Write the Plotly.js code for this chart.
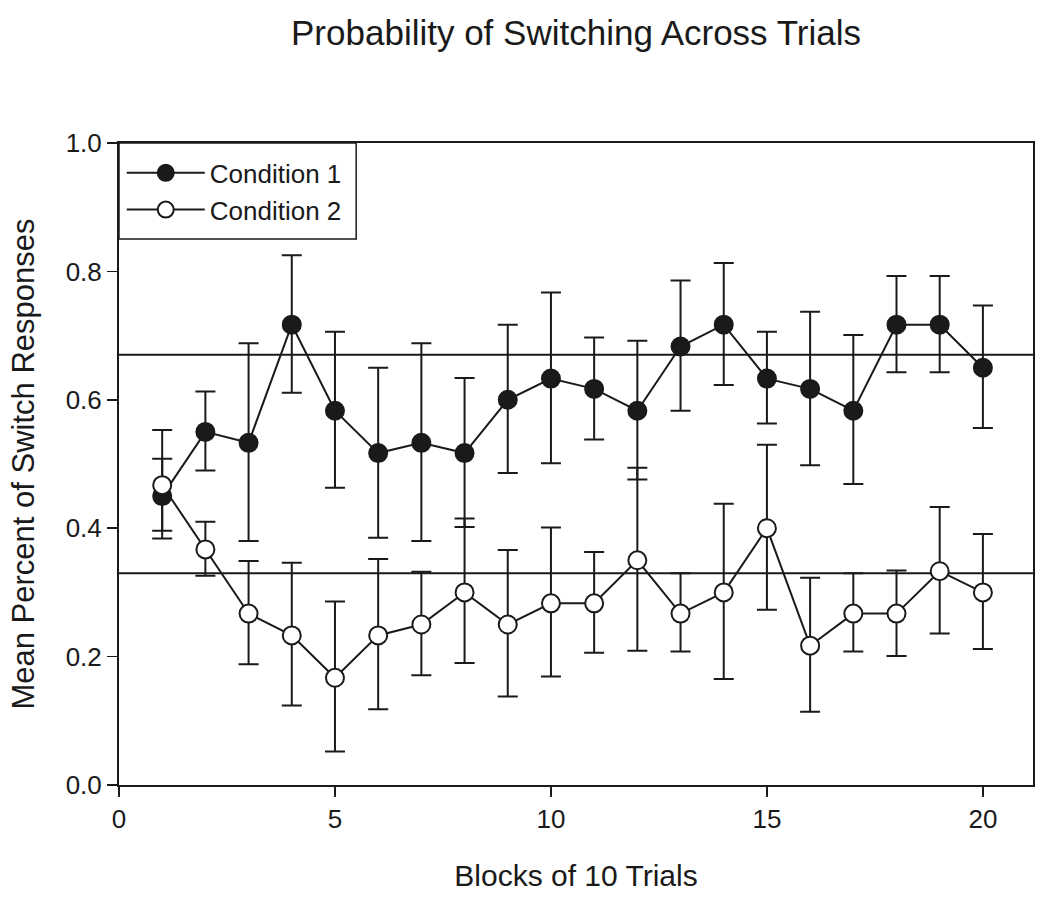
<!DOCTYPE html>
<html>
<head>
<meta charset="utf-8">
<script src="https://cdn.plot.ly/plotly-3.0.1.min.js"></script>
<style>
  html, body { margin: 0; padding: 0; background: #fff; }
  #chart { width: 1050px; height: 898px; }
</style>
</head>
<body>
<div id="chart"></div>
<script>
var blocks = [1, 2, 3, 4, 5, 6, 7, 8, 9, 10, 11, 12, 13, 14, 15, 16, 17, 18, 19, 20];

var cond1Mean  = [0.450, 0.550, 0.533, 0.717, 0.583, 0.517, 0.533, 0.517, 0.600, 0.633,
                  0.617, 0.583, 0.683, 0.717, 0.633, 0.617, 0.583, 0.717, 0.717, 0.650];
var cond1Upper = [0.553, 0.613, 0.688, 0.825, 0.706, 0.650, 0.688, 0.634, 0.717, 0.767,
                  0.697, 0.692, 0.786, 0.813, 0.706, 0.737, 0.701, 0.793, 0.793, 0.747];
var cond1Lower = [0.384, 0.490, 0.380, 0.611, 0.463, 0.385, 0.380, 0.402, 0.486, 0.501,
                  0.538, 0.476, 0.583, 0.623, 0.563, 0.498, 0.469, 0.643, 0.643, 0.556];

var cond2Mean  = [0.467, 0.367, 0.267, 0.233, 0.167, 0.233, 0.250, 0.300, 0.250, 0.283,
                  0.283, 0.350, 0.267, 0.300, 0.400, 0.217, 0.267, 0.267, 0.333, 0.300];
var cond2Upper = [0.508, 0.410, 0.349, 0.346, 0.286, 0.352, 0.332, 0.415, 0.366, 0.401,
                  0.363, 0.494, 0.330, 0.438, 0.530, 0.323, 0.330, 0.334, 0.433, 0.391];
var cond2Lower = [0.396, 0.326, 0.188, 0.124, 0.052, 0.118, 0.171, 0.190, 0.138, 0.169,
                  0.206, 0.209, 0.208, 0.165, 0.273, 0.114, 0.208, 0.201, 0.236, 0.212];

// reference lines
var refLevels = [0.67, 0.33];

function diff(a, b) {
    var out = [];
    for (var i = 0; i < a.length; i++) out.push(Math.abs(a[i] - b[i]));
    return out;
}

var font = "'Liberation Sans', Arial, sans-serif";
var ink = "#1a1a1a";

function makeTrace(name, mean, upper, lower, fill) {
    return {
        x: blocks,
        y: mean,
        name: name,
        type: "scatter",
        mode: "lines+markers",
        line: { color: ink, width: 2 },
        marker: { size: 18, color: fill, line: { color: ink, width: 2 } },
        error_y: {
            type: "data",
            symmetric: false,
            array: diff(upper, mean),
            arrayminus: diff(mean, lower),
            color: ink,
            thickness: 2,
            width: 10
        },
        hoverinfo: "none"
    };
}

var data = [
    makeTrace("Condition 1", cond1Mean, cond1Upper, cond1Lower, ink),
    makeTrace("Condition 2", cond2Mean, cond2Upper, cond2Lower, "#fff")
];

var shapes = [];
for (var i = 0; i < refLevels.length; i++) {
    shapes.push({
        type: "line", xref: "paper", yref: "y",
        x0: 0, x1: 1, y0: refLevels[i], y1: refLevels[i],
        line: { color: ink, width: 2 },
        layer: "below"
    });
}
// legend box, flush with the top-left corner of the frame
shapes.push({
    type: "rect", xref: "paper", yref: "paper",
    x0: 0, x1: 0.2595, y0: 0.8505, y1: 1,
    line: { color: ink, width: 1.5 },
    fillcolor: "#fff",
    layer: "below"
});

var layout = {
    width: 1050,
    height: 898,
    margin: { l: 119, r: 17, t: 143, b: 113 },
    paper_bgcolor: "#fff",
    plot_bgcolor: "#fff",
    font: { family: font, color: ink, size: 26 },
    title: {
        text: "Probability of Switching Across Trials",
        font: { family: font, size: 35, color: ink },
        x: 0.5, xref: "paper",
        y: 0.963, yref: "container", yanchor: "middle"
    },
    showlegend: true,
    legend: {
        x: 0.003, y: 0.99, xanchor: "left", yanchor: "top",
        bgcolor: "rgba(0,0,0,0)",
        borderwidth: 0,
        font: { family: font, size: 26, color: ink },
        itemwidth: 78
    },
    xaxis: {
        range: [0, 21.16],
        tickvals: [0, 5, 10, 15, 20],
        showgrid: false,
        zeroline: false,
        showline: true,
        linecolor: ink,
        linewidth: 2,
        mirror: true,
        ticks: "outside",
        ticklen: 10,
        tickwidth: 1.5,
        tickcolor: ink,
        tickfont: { size: 26 },
        title: { text: "Blocks of 10 Trials", font: { size: 30 }, standoff: 32 }
    },
    yaxis: {
        range: [0, 1],
        tickvals: [0, 0.2, 0.4, 0.6, 0.8, 1.0],
        tickformat: ".1f",
        showgrid: false,
        zeroline: false,
        showline: true,
        linecolor: ink,
        linewidth: 2,
        mirror: true,
        ticks: "outside",
        ticklen: 10,
        tickwidth: 1.5,
        tickcolor: ink,
        tickfont: { size: 26 },
        title: { text: "Mean Percent of Switch Responses", font: { size: 31 }, standoff: 22 }
    },
    shapes: shapes
};

Plotly.newPlot("chart", data, layout, { displayModeBar: false, staticPlot: true });
</script>
</body>
</html>
